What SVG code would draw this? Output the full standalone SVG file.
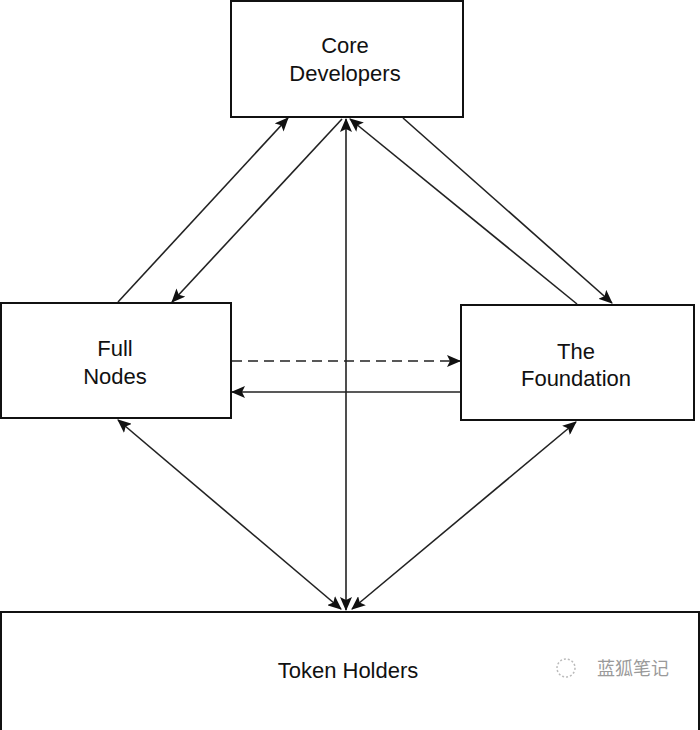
<svg xmlns="http://www.w3.org/2000/svg" width="700" height="730" viewBox="0 0 700 730">
<defs>
<marker id="ah" viewBox="0 0 14 12" refX="13" refY="6" markerWidth="14" markerHeight="12" markerUnits="userSpaceOnUse" orient="auto-start-reverse">
<path d="M0,0 L14,6 L0,12 L3,6 Z" fill="#111"/>
</marker>
</defs>
<style>
.box{fill:#fff;stroke:#111;stroke-width:2}
.lbl{font-family:"Liberation Sans",Arial,sans-serif;font-size:22px;fill:#111;text-anchor:middle}
.c{fill:none;stroke:#222;stroke-width:1.6}
.wm{font-family:"Noto Sans CJK SC",sans-serif;font-size:18px;fill:#9a9a9a}
</style>
<rect width="700" height="730" fill="#fff"/>
<g id="core-developers">
<rect class="box" x="231" y="1" width="232" height="116"/>
<text class="lbl" x="345" y="53">Core</text>
<text class="lbl" x="345" y="81">Developers</text>
</g>
<g id="full-nodes">
<rect class="box" x="1" y="303" width="230" height="115"/>
<text class="lbl" x="115" y="356">Full</text>
<text class="lbl" x="115" y="384">Nodes</text>
</g>
<g id="the-foundation">
<rect class="box" x="461" y="305" width="233" height="115"/>
<text class="lbl" x="576" y="359">The</text>
<text class="lbl" x="576" y="386">Foundation</text>
</g>
<g id="token-holders">
<rect class="box" x="1" y="612" width="698" height="120"/>
<text class="lbl" x="348" y="678">Token Holders</text>
</g>
<g id="connectors">
<line class="c" x1="118" y1="302" x2="288" y2="118" marker-end="url(#ah)"/>
<line class="c" x1="342" y1="119" x2="172" y2="302" marker-end="url(#ah)"/>
<line class="c" x1="346" y1="119" x2="346" y2="610" marker-start="url(#ah)" marker-end="url(#ah)"/>
<line class="c" x1="403" y1="118" x2="612" y2="303" marker-end="url(#ah)"/>
<line class="c" x1="577" y1="304" x2="350" y2="119" marker-end="url(#ah)"/>
<line class="c" x1="232" y1="361" x2="460" y2="361" stroke-dasharray="10,6" marker-end="url(#ah)"/>
<line class="c" x1="460" y1="392" x2="232" y2="392" marker-end="url(#ah)"/>
<line class="c" x1="118" y1="420" x2="341" y2="609" marker-start="url(#ah)" marker-end="url(#ah)"/>
<line class="c" x1="576" y1="422" x2="352" y2="609" marker-start="url(#ah)" marker-end="url(#ah)"/>
</g>
<g id="watermark">
<circle cx="566" cy="668" r="9" fill="none" stroke="#bbb" stroke-width="1.5" stroke-dasharray="2,2"/>
<text class="wm" x="597" y="675">蓝狐笔记</text>
</g>
</svg>
